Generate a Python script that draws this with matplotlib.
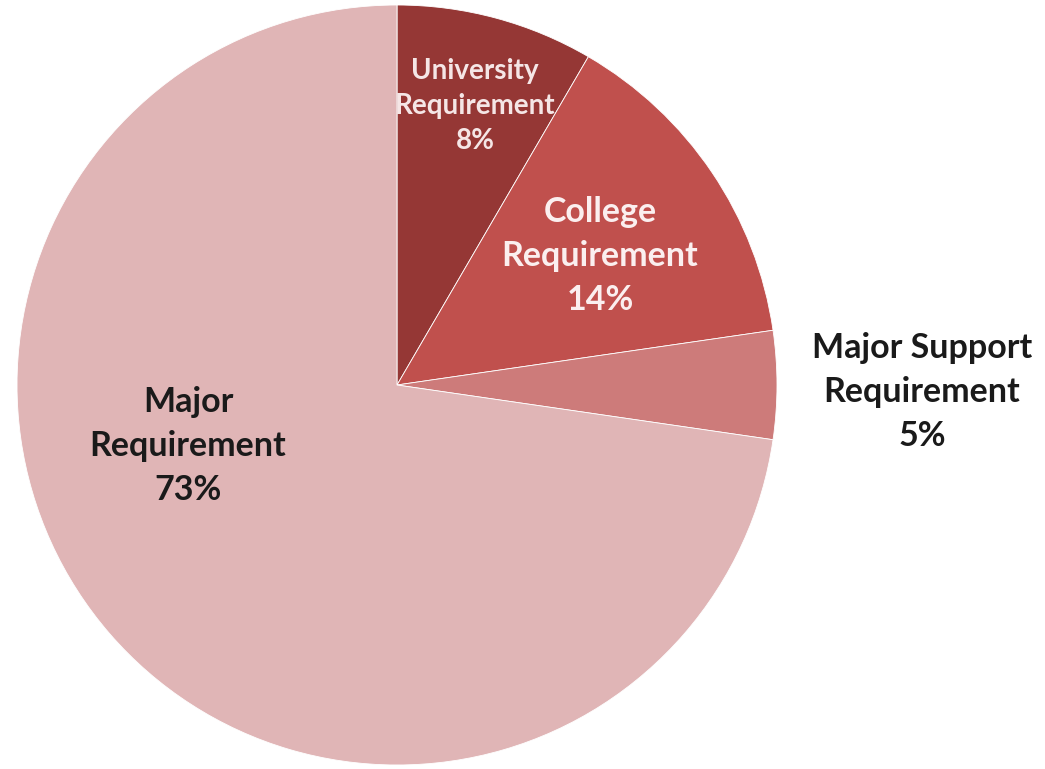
import matplotlib
matplotlib.use("Agg")
import matplotlib.pyplot as plt

categories = ["University\nRequirement", "College\nRequirement",
              "Major Support\nRequirement", "Major\nRequirement"]
values = [8.4, 14.3, 4.6, 72.7]
colors = ["#953735", "#C0504D", "#CD7B7A", "#E0B5B6"]
text_colors = ["#F5E6E6", "#FBEFEF", "#1A1A1A", "#1A1A1A"]
font_sizes = [20, 24.5, 24.5, 24.5]

W, H = 1045, 769
cx, cy, R = 397, 385, 380

fig = plt.figure(figsize=(W / 100, H / 100), dpi=100)
ax = fig.add_axes([0, 0, 1, 1])

wedges, _ = ax.pie(values, colors=colors, startangle=90, counterclock=False,
                   radius=1.0, center=(0, 0),
                   wedgeprops=dict(edgecolor="white", linewidth=0.6))
ax.set_xlim(-cx / R, (W - cx) / R)
ax.set_ylim(-(H - cy) / R, cy / R)
ax.set_aspect("auto")
ax.axis("off")

# label anchor positions (pixels in the reference image)
label_px = [(475, 106), (600, 256), (922, 392), (188, 446)]
for cat, v, (px, py), tc, fs in zip(categories, values, label_px, text_colors, font_sizes):
    ax.text((px - cx) / R, (cy - py) / R, f"{cat}\n{round(v)}%", ha="center", va="center",
            color=tc, fontsize=fs, fontweight="bold", family=["Lato", "DejaVu Sans"],
            linespacing=1.45)

fig.savefig("out.png", dpi=100)
